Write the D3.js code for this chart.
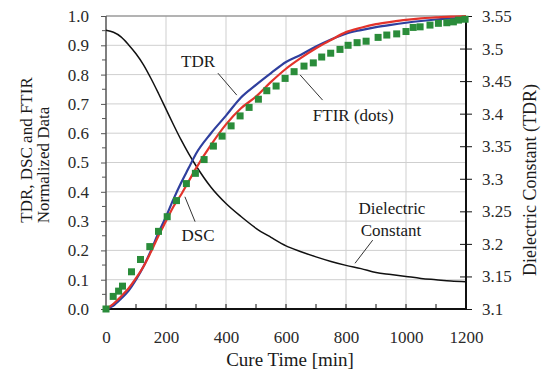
<!DOCTYPE html>
<html><head><meta charset="utf-8">
<script src="https://cdn.jsdelivr.net/npm/d3@7"></script>
<style>html,body{margin:0;padding:0;background:#fff;}svg{display:block;}
svg text{font-family:"Liberation Serif","DejaVu Serif","Times New Roman",serif !important;}</style>
</head><body>
<script>
// ---- data ----
const xTicks = [0, 200, 400, 600, 800, 1000, 1200];
const yLeftTicks = [0.0, 0.1, 0.2, 0.3, 0.4, 0.5, 0.6, 0.7, 0.8, 0.9, 1.0];
const yRightTicks = [3.1, 3.15, 3.2, 3.25, 3.3, 3.35, 3.4, 3.45, 3.5, 3.55];

const lineTimes = [0,25,50,75,100,125,150,175,200,225,250,275,300,350,400,450,500,550,600,650,700,750,800,850,900,950,1000,1050,1100,1150,1200];
const tdrNorm = [0,0.012,0.035,0.062,0.1,0.145,0.2,0.26,0.315,0.375,0.43,0.48,0.53,0.6,0.66,0.722,0.765,0.805,0.843,0.868,0.896,0.92,0.94,0.952,0.962,0.97,0.977,0.983,0.988,0.992,0.995];
const dscNorm = [0,0.018,0.043,0.07,0.105,0.145,0.195,0.25,0.3,0.35,0.39,0.435,0.48,0.56,0.63,0.685,0.725,0.775,0.82,0.857,0.89,0.918,0.945,0.96,0.972,0.98,0.987,0.992,0.995,0.998,1.0];
const dielectric = [3.528,3.525,3.518,3.506,3.492,3.475,3.454,3.431,3.407,3.383,3.36,3.339,3.32,3.287,3.262,3.242,3.224,3.21,3.197,3.188,3.18,3.173,3.167,3.162,3.156,3.153,3.15,3.147,3.145,3.143,3.142];

const ftirTimes = [0,24,42,55,85,115,146,175,204,235,268,298,327,358,387,417,447,477,508,536,567,597,627,660,691,719,749,780,807,837,867,907,936,969,1000,1024,1047,1080,1108,1136,1158,1175,1197];
const ftirNorm = [0,0.043,0.061,0.078,0.127,0.169,0.213,0.265,0.315,0.37,0.428,0.463,0.51,0.556,0.59,0.625,0.659,0.688,0.716,0.745,0.761,0.787,0.81,0.829,0.84,0.86,0.873,0.886,0.9,0.909,0.914,0.927,0.935,0.939,0.947,0.961,0.963,0.969,0.975,0.977,0.98,0.986,0.989];

// ---- layout ----
const W = 543, H = 370;
const L = 106, R = 466, T = 16, B = 309;
const font = "Liberation Serif, DejaVu Serif, serif";

const x = d3.scaleLinear().domain([0, 1200]).range([L, R]);
const yL = d3.scaleLinear().domain([0, 1]).range([B, T]);
const yR = d3.scaleLinear().domain([3.1, 3.55]).range([B, T]);

const svg = d3.select("body").append("svg").attr("width", W).attr("height", H)
  .attr("font-family", font);

// grid
const grid = svg.append("g");
grid.selectAll(".vg").data(xTicks.slice(1, -1)).join("line")
  .attr("x1", d => x(d)).attr("x2", d => x(d)).attr("y1", T).attr("y2", B)
  .attr("stroke", "#cfcfcf").attr("stroke-width", 1);
grid.selectAll(".hg").data(yLeftTicks.slice(1)).join("line")
  .attr("x1", L).attr("x2", R).attr("y1", d => yL(d)).attr("y2", d => yL(d))
  .attr("stroke", d => d === 1 ? "#9a9a9a" : "#cfcfcf").attr("stroke-width", d => d === 1 ? 1.5 : 1);

// axes
const fmt1 = d3.format(".1f");
const axL = d3.axisLeft(yL).tickValues(yLeftTicks).tickFormat(fmt1).tickSize(5).tickPadding(12);
const axB = d3.axisBottom(x).tickValues(xTicks).tickFormat(d3.format("d")).tickSize(0).tickPadding(22);
const axR = d3.axisRight(yR).tickValues(yRightTicks).tickFormat(d => String(+d.toFixed(2))).tickSize(6).tickPadding(10);

function styleAxis(g, col, w) {
  g.attr("font-family", font).attr("font-size", 17);
  g.select(".domain").attr("stroke", col).attr("stroke-width", w);
  g.selectAll(".tick line").attr("stroke", col).attr("stroke-width", 1);
  g.selectAll("text").attr("fill", "#2a2a2a");
}
const gL = svg.append("g").attr("transform", `translate(${L},0)`).call(axL);
styleAxis(gL, "#555", 1.5);
gL.select(".domain").attr("d", `M0,${B}V${T}`);
svg.append("g").selectAll("line").data(d3.range(0.05, 1, 0.1)).join("line")
  .attr("x1", L - 4).attr("x2", L).attr("y1", d => yL(d)).attr("y2", d => yL(d))
  .attr("stroke", "#555").attr("stroke-width", 1);

const gB = svg.append("g").attr("transform", `translate(0,${B})`).call(axB);
styleAxis(gB, "#111", 2);
gB.select(".domain").attr("d", `M${L},0H${R}`);
svg.append("g").selectAll("line").data(d3.range(100, 1200, 100)).join("line")
  .attr("x1", d => x(d)).attr("x2", d => x(d)).attr("y1", B).attr("y2", B - 5)
  .attr("stroke", "#111").attr("stroke-width", 1);

const gR = svg.append("g").attr("transform", `translate(${R},0)`).call(axR);
styleAxis(gR, "#111", 2);
gR.select(".domain").attr("d", `M0,${B}V${T}`);
gR.selectAll(".tick line").attr("x1", -6);

// series
const idx = d3.range(lineTimes.length);
const lineL = vals => d3.line().x(i => x(lineTimes[i])).y(i => yL(vals[i])).curve(d3.curveMonotoneX);
svg.append("path").attr("d", d3.line().x(i => x(lineTimes[i])).y(i => yR(dielectric[i])).curve(d3.curveMonotoneX)(idx))
  .attr("fill", "none").attr("stroke", "#111").attr("stroke-width", 1.5);
svg.append("path").attr("d", lineL(tdrNorm)(idx))
  .attr("fill", "none").attr("stroke", "#2f3f9e").attr("stroke-width", 2.2);
svg.append("path").attr("d", lineL(dscNorm)(idx))
  .attr("fill", "none").attr("stroke", "#e3332b").attr("stroke-width", 2.2);
svg.append("g").selectAll("rect").data(d3.range(ftirTimes.length)).join("rect")
  .attr("x", i => x(ftirTimes[i]) - 3.5).attr("y", i => yL(ftirNorm[i]) - 3.5)
  .attr("width", 7).attr("height", 7).attr("fill", "#2a8c3a");

// annotations (data coordinates)
const ann = svg.append("g").attr("font-size", 17).attr("fill", "#1a1a1a");
function label(t, v, txt) {
  ann.append("text").attr("x", x(t)).attr("y", yL(v)).attr("text-anchor", "middle").text(txt);
}
function leader(t1, v1, t2, v2) {
  svg.append("line").attr("x1", x(t1)).attr("y1", yL(v1)).attr("x2", x(t2)).attr("y2", yL(v2))
    .attr("stroke", "#333").attr("stroke-width", 1);
}
label(307, 0.826, "TDR");
leader(373, 0.805, 436, 0.73);
label(824, 0.642, "FTIR (dots)");
leader(647, 0.799, 722, 0.713);
label(307, 0.232, "DSC");
leader(263, 0.383, 297, 0.298);
label(953, 0.324, "Dielectric");
label(950, 0.249, "Constant");
leader(889, 0.235, 830, 0.156);

// axis titles
svg.append("text").attr("x", (L + R) / 2 + 4).attr("y", 366).attr("text-anchor", "middle")
  .attr("font-size", 19).attr("fill", "#1a1a1a").text("Cure Time [min]");
svg.append("text").attr("transform", "translate(32,150) rotate(-90)").attr("text-anchor", "middle")
  .attr("font-size", 17).attr("fill", "#1a1a1a").text("TDR, DSC and FTIR");
svg.append("text").attr("transform", "translate(49,165) rotate(-90)").attr("text-anchor", "middle")
  .attr("font-size", 17).attr("fill", "#1a1a1a").text("Normalized Data");
svg.append("text").attr("transform", "translate(536,180) rotate(-90)").attr("text-anchor", "middle")
  .attr("font-size", 18).attr("fill", "#1a1a1a").text("Dielectric Constant (TDR)");
</script>
</body></html>
